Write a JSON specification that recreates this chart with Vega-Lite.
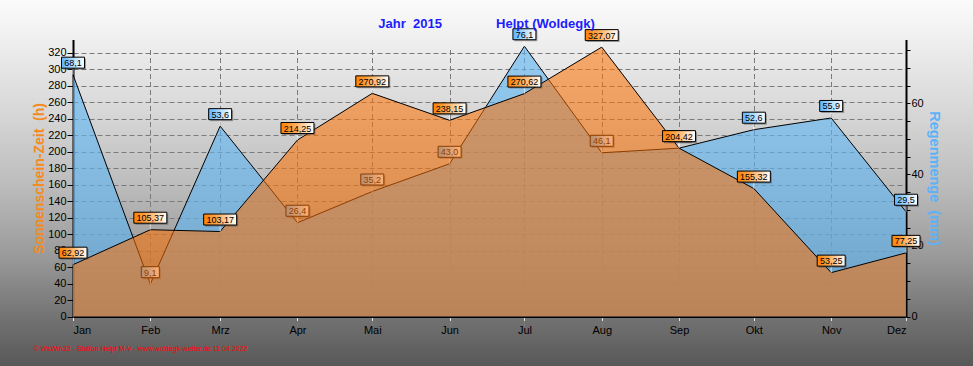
{
  "$schema": "https://vega.github.io/schema/vega-lite/v6.json",
  "width": 973,
  "height": 366,
  "autosize": {"type": "none"},
  "padding": 0,
  "background": "#a0a0a0",
  "config": {
    "view": {
      "stroke": null,
      "fill": {
        "gradient": "linear", "x1": 0, "y1": 0, "x2": 0, "y2": 1,
        "stops": [
          {"offset": 0, "color": "#fbfbfb"},
          {"offset": 0.1, "color": "#f0f0f0"},
          {"offset": 0.3, "color": "#d8d8d8"},
          {"offset": 0.5, "color": "#bdbdbd"},
          {"offset": 0.7, "color": "#9a9a9a"},
          {"offset": 0.87, "color": "#727272"},
          {"offset": 1, "color": "#585858"}
        ]
      }
    },
    "locale": {"number": {"decimal": ",", "thousands": ".", "grouping": [3], "currency": ["", " €"]}},
    "font": "Liberation Sans",
    "axis": {"labelFont": "Liberation Sans", "titleFont": "Liberation Sans"}
  },
  "title": {
    "text": "Jahr\u00a0\u00a02015\u00a0\u00a0\u00a0\u00a0\u00a0\u00a0\u00a0\u00a0\u00a0\u00a0\u00a0\u00a0\u00a0\u00a0\u00a0Helpt (Woldegk)",
    "color": "#1c1cff",
    "fontSize": 13,
    "fontWeight": "bold",
    "font": "Liberation Sans",
    "anchor": "middle",
    "offset": -41,
    "baseline": "alphabetic"
  },
  "data": {
    "values": [
      {"date": "2015-01-01", "sun": 62.92, "rain": 68.1},
      {"date": "2015-02-01", "sun": 105.37, "rain": 9.1},
      {"date": "2015-03-01", "sun": 103.17, "rain": 53.6},
      {"date": "2015-04-01", "sun": 214.25, "rain": 26.4},
      {"date": "2015-05-01", "sun": 270.92, "rain": 35.2},
      {"date": "2015-06-01", "sun": 238.15, "rain": 43.0},
      {"date": "2015-07-01", "sun": 270.62, "rain": 76.1},
      {"date": "2015-08-01", "sun": 327.07, "rain": 46.1},
      {"date": "2015-09-01", "sun": 204.42, "rain": 47.4},
      {"date": "2015-10-01", "sun": 155.32, "rain": 52.6},
      {"date": "2015-11-01", "sun": 53.25, "rain": 55.9},
      {"date": "2015-12-01", "sun": 77.25, "rain": 29.5}
    ]
  },
  "encoding": {
    "x": {
      "field": "date",
      "type": "temporal",
      "scale": {"type": "utc", "range": [73, 906], "nice": false},
      "axis": {
        "values": [
          {"year": 2015, "month": 1, "date": 1, "utc": true},
          {"year": 2015, "month": 2, "date": 1, "utc": true},
          {"year": 2015, "month": 3, "date": 1, "utc": true},
          {"year": 2015, "month": 4, "date": 1, "utc": true},
          {"year": 2015, "month": 5, "date": 1, "utc": true},
          {"year": 2015, "month": 6, "date": 1, "utc": true},
          {"year": 2015, "month": 7, "date": 1, "utc": true},
          {"year": 2015, "month": 8, "date": 1, "utc": true},
          {"year": 2015, "month": 9, "date": 1, "utc": true},
          {"year": 2015, "month": 10, "date": 1, "utc": true},
          {"year": 2015, "month": 11, "date": 1, "utc": true},
          {"year": 2015, "month": 12, "date": 1, "utc": true}
        ],
        "labelExpr": "['Jan','Feb','Mrz','Apr','Mai','Jun','Jul','Aug','Sep','Okt','Nov','Dez'][utcmonth(datum.value)]",
        "offset": -49.5,
        "domainColor": "black",
        "domainWidth": 2,
        "tickColor": "#e6e6e6",
        "tickSize": 4,
        "labelColor": "black",
        "labelFontSize": 11,
        "labelPadding": 4,
        "labelAngle": 0,
        "grid": true,
        "gridColor": "#7a7a7a",
        "gridDash": [5, 3],
        "title": "© WsWin32 - Station Helpt M-V - www.woldegk-wetter.de 11.04.2022",
        "titleColor": "#ff0000",
        "titleFontSize": 7,
        "titleFontWeight": "normal",
        "titleAnchor": "start",
        "titleAlign": "left",
        "titleX": 33,
        "titleY": 34,
        "titleBaseline": "alphabetic"
      }
    }
  },
  "layer": [
    {
      "encoding": {
        "y": {
          "field": "rain",
          "type": "quantitative",
          "scale": {"domain": [0, 78], "range": [316.5, 39.5], "nice": false},
          "axis": {
            "orient": "right",
            "offset": -67,
            "values": [0, 5, 10, 15, 20, 25, 30, 35, 40, 45, 50, 55, 60, 65, 70, 75],
            "labelExpr": "datum.value % 20 == 0 ? datum.label : ''",
            "grid": false,
            "domainColor": "black",
            "domainWidth": 2,
            "tickColor": "black",
            "tickSize": 4,
            "labelPadding": 1,
            "labelFontSize": 11,
            "labelColor": "black",
            "title": "Regenmenge\u00a0\u00a0(mm)",
            "titleColor": "#5cb2f7",
            "titleFontSize": 14.5,
            "titleFontWeight": "bold",
            "titlePadding": 3
          }
        }
      },
      "layer": [
        {"mark": {"type": "area", "color": "#60b4f4", "fillOpacity": 0.62}},
        {"mark": {"type": "line", "color": "black", "strokeWidth": 1}},
        {"mark": {"type": "tick", "orient": "vertical", "color": "white", "size": 7, "thickness": 1, "yOffset": -3.5}},
        {
          "transform": [{"filter": "datum.rain < 10"}],
          "mark": {"type": "rect", "width": 18, "height": 11, "yOffset": -10.5, "xOffset": 1.5, "fill": "#404040", "opacity": 0.45}
        },
        {
          "transform": [{"filter": "datum.rain >= 10"}],
          "mark": {"type": "rect", "width": 23, "height": 11, "yOffset": -10.5, "xOffset": 1.5, "fill": "#404040", "opacity": 0.45}
        },
        {
          "transform": [{"filter": "datum.rain < 10"}],
          "mark": {"type": "rect", "width": 18, "height": 11, "yOffset": -12, "stroke": "black", "strokeWidth": 1,
            "fill": {"gradient": "linear", "stops": [{"offset": 0, "color": "#5ab4ff"}, {"offset": 0.45, "color": "#a8d8ff"}, {"offset": 1, "color": "#ffffff"}]}}
        },
        {
          "transform": [{"filter": "datum.rain >= 10"}],
          "mark": {"type": "rect", "width": 23, "height": 11, "yOffset": -12, "stroke": "black", "strokeWidth": 1,
            "fill": {"gradient": "linear", "stops": [{"offset": 0, "color": "#5ab4ff"}, {"offset": 0.45, "color": "#a8d8ff"}, {"offset": 1, "color": "#ffffff"}]}}
        },
        {
          "mark": {"type": "text", "fontSize": 9, "font": "Liberation Sans", "color": "black", "dy": -11.5, "baseline": "middle"},
          "encoding": {"text": {"field": "rain", "type": "quantitative", "format": ".1f"}}
        }
      ]
    },
    {
      "encoding": {
        "y": {
          "field": "sun",
          "type": "quantitative",
          "scale": {"domain": [0, 336.3], "range": [316.5, 39.5], "nice": false},
          "axis": {
            "orient": "left",
            "offset": -73,
            "values": [0, 20, 40, 60, 80, 100, 120, 140, 160, 180, 200, 220, 240, 260, 280, 300, 320],
            "grid": true,
            "gridColor": "#7a7a7a",
            "gridDash": [5, 3],
            "domainColor": "black",
            "domainWidth": 2,
            "tickColor": "black",
            "tickSize": 6,
            "labelPadding": 1,
            "labelFontSize": 11,
            "labelColor": "black",
            "title": "Sonnenschein-Zeit\u00a0\u00a0(h)",
            "titleColor": "#f58a1f",
            "titleFontSize": 14,
            "titleFontWeight": "bold",
            "titlePadding": 1
          }
        }
      },
      "layer": [
        {"mark": {"type": "area", "color": "#ff7000", "fillOpacity": 0.55}},
        {"mark": {"type": "line", "color": "black", "strokeWidth": 1}},
        {
          "data": {"values": [{"f": 1}]},
          "mark": {"type": "rule", "color": "black", "strokeWidth": 2},
          "encoding": {
            "x": {"datum": {"year": 2015, "month": 1, "date": 1, "utc": true}, "type": "temporal"},
            "x2": {"datum": {"year": 2015, "month": 12, "date": 1, "utc": true}},
            "y": {"datum": 336.3, "type": "quantitative"}
          }
        },
        {"mark": {"type": "tick", "orient": "vertical", "color": "white", "size": 7, "thickness": 1, "yOffset": -3.5}},
        {
          "transform": [{"filter": "datum.sun < 100"}],
          "mark": {"type": "rect", "width": 28, "height": 11, "yOffset": -10.5, "xOffset": 1.5, "fill": "#404040", "opacity": 0.45}
        },
        {
          "transform": [{"filter": "datum.sun >= 100"}],
          "mark": {"type": "rect", "width": 33, "height": 11, "yOffset": -10.5, "xOffset": 1.5, "fill": "#404040", "opacity": 0.45}
        },
        {
          "transform": [{"filter": "datum.sun < 100"}],
          "mark": {"type": "rect", "width": 28, "height": 11, "yOffset": -12, "stroke": "black", "strokeWidth": 1,
            "fill": {"gradient": "linear", "stops": [{"offset": 0, "color": "#ff8000"}, {"offset": 0.4, "color": "#ffa850"}, {"offset": 1, "color": "#ffffff"}]}}
        },
        {
          "transform": [{"filter": "datum.sun >= 100"}],
          "mark": {"type": "rect", "width": 33, "height": 11, "yOffset": -12, "stroke": "black", "strokeWidth": 1,
            "fill": {"gradient": "linear", "stops": [{"offset": 0, "color": "#ff8000"}, {"offset": 0.4, "color": "#ffa850"}, {"offset": 1, "color": "#ffffff"}]}}
        },
        {
          "mark": {"type": "text", "fontSize": 9, "font": "Liberation Sans", "color": "black", "dy": -11.5, "baseline": "middle"},
          "encoding": {"text": {"field": "sun", "type": "quantitative", "format": ".2f"}}
        }
      ]
    }
  ],
  "resolve": {"scale": {"y": "independent"}}
}
